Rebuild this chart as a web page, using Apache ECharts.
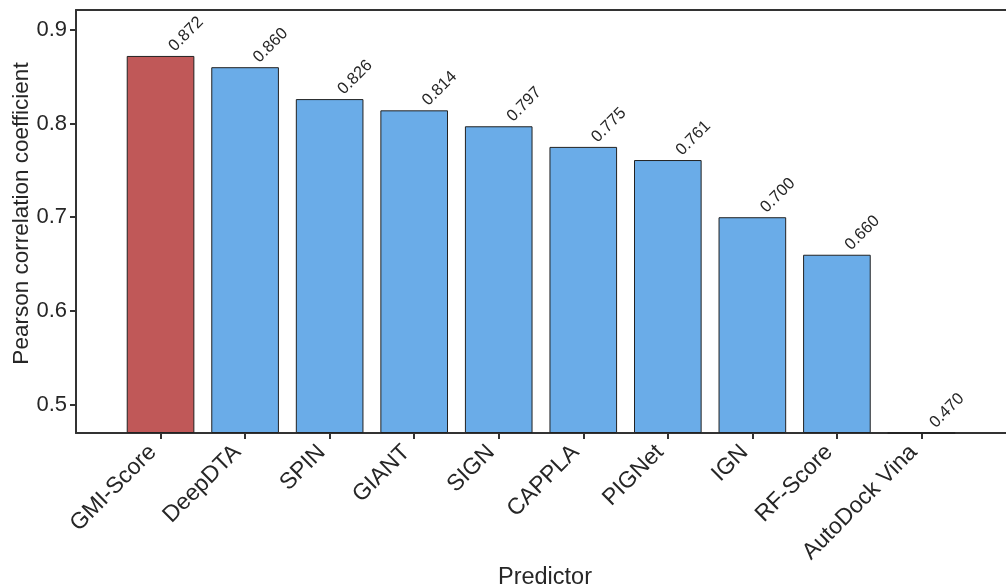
<!DOCTYPE html>
<html>
<head>
<meta charset="utf-8">
<script src="https://cdn.jsdelivr.net/npm/echarts@6/dist/echarts.min.js"></script>
<style>
  html, body { margin: 0; padding: 0; background: #fff; }
  #chart { width: 1006px; height: 588px; }
</style>
</head>
<body>
<div id="chart"></div>
<script>
// Predictors, ordered by Pearson correlation
const predictors = ['GMI-Score', 'DeepDTA', 'SPIN', 'GIANT', 'SIGN', 'CAPPLA', 'PIGNet', 'IGN', 'RF-Score', 'AutoDock Vina'];
const pearson = [0.872, 0.860, 0.826, 0.814, 0.797, 0.775, 0.761, 0.700, 0.660, 0.470];
const highlighted = ['GMI-Score'];
const yTicks = [0.5, 0.6, 0.7, 0.8, 0.9];

const FONT = "'Liberation Sans', Arial, Helvetica, sans-serif";
const TEXT = '#262626';
const RED = '#C05858';
const BLUE = '#6AACE8';

// pad one empty slot on each side so the bars sit one band in from each edge
const cats = [''].concat(predictors, ['']);
const barData = [null].concat(pearson.map((v, i) => ({
  value: v,
  itemStyle: { color: highlighted.includes(predictors[i]) ? RED : BLUE }
})), [null]);

const chart = echarts.init(document.getElementById('chart'), null, { renderer: 'canvas' });
chart.setOption({
  animation: false,
  backgroundColor: '#fff',
  textStyle: { fontFamily: FONT },
  grid: { left: 76, right: 0, top: 10, bottom: 155, containLabel: false, outerBoundsMode: 'none' },
  xAxis: [{
    type: 'category',
    data: cats,
    boundaryGap: false,
    name: 'Predictor',
    nameLocation: 'middle',
    nameGap: 133,
    nameMoveOverlap: false,
    nameTextStyle: { fontFamily: FONT, fontSize: 23.5, color: TEXT, padding: [0, 0, 0, 8] },
    axisLine: { lineStyle: { color: '#333', width: 2 } },
    axisTick: {
      length: 6, lineStyle: { color: '#333', width: 2 },
      interval: (idx, val) => val !== ''
    },
    axisLabel: {
      interval: 0, rotate: 45, margin: 8, padding: [0, 11, 0, 0],
      fontFamily: FONT, fontSize: 23, color: TEXT
    },
    splitLine: { show: false }
  }, {
    type: 'category',
    data: cats,
    position: 'top',
    boundaryGap: false,
    axisLine: { lineStyle: { color: '#333', width: 2 } },
    axisTick: { show: false },
    axisLabel: { show: false },
    splitLine: { show: false }
  }],
  yAxis: {
    type: 'value',
    min: 0.4699,
    max: 0.921,
    startValue: 0.4699,
    name: 'Pearson correlation coefficient',
    nameLocation: 'middle',
    nameGap: 43,
    nameMoveOverlap: false,
    nameTextStyle: { fontFamily: FONT, fontSize: 22.5, color: TEXT, padding: [0, 0, 0, 16] },
    axisLine: { show: true, lineStyle: { color: '#333', width: 2 } },
    axisTick: { show: true, length: 6, lineStyle: { color: '#333', width: 2 }, customValues: yTicks },
    axisLabel: {
      customValues: yTicks, margin: 9,
      fontFamily: FONT, fontSize: 22, color: TEXT,
      formatter: v => v.toFixed(1)
    },
    splitLine: { show: false }
  },
  series: [{
    type: 'bar',
    data: barData,
    barWidth: '80%',
    itemStyle: { borderColor: '#222', borderWidth: 1 },
    label: {
      show: true,
      position: 'top',
      distance: 4,
      offset: [10, 14],
      rotate: 45,
      align: 'left',
      verticalAlign: 'bottom',
      fontFamily: FONT,
      fontSize: 16.5,
      color: TEXT,
      formatter: p => p.value.toFixed(3)
    }
  }]
});
</script>
</body>
</html>
